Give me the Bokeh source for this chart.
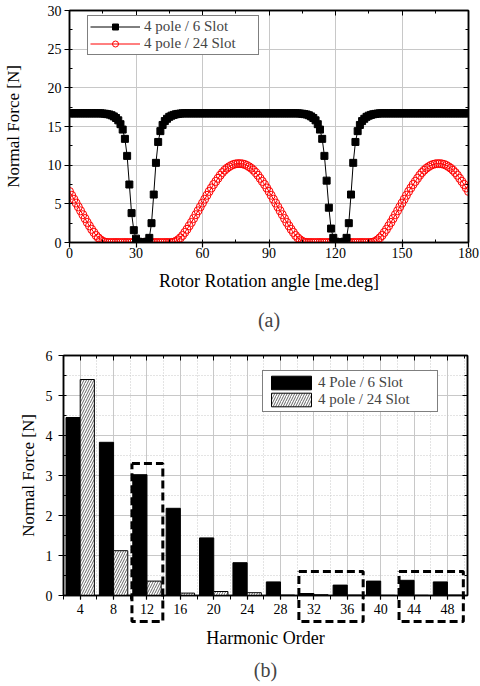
from bokeh.plotting import figure
from bokeh.models import (Range1d, LinearAxis, SingleIntervalTicker, FixedTicker,
                          Legend, LegendItem, Title, ColumnDataSource)
from bokeh.transform import dodge
from bokeh.embed import file_html
from bokeh.resources import INLINE

FONT = "Liberation Serif"

# ---------------- (a) normal force vs rotor angle ----------------
angle = list(range(0, 181))

force_6slot = [
    16.7, 16.7, 16.7, 16.7, 16.7, 16.7, 16.7, 16.7, 16.7, 16.7,
    16.7, 16.7, 16.7, 16.7, 16.7, 16.68, 16.65, 16.6, 16.55, 16.45,
    16.3, 16.1, 15.8, 15.3, 14.6, 13.4, 11.2, 7.5, 3.8, 1.6,
    0.5, 0.1, 0.0, 0.0, 0.0, 0.1, 0.6, 2.5, 6.2, 10.3,
    13.0, 14.4, 15.2, 15.7, 16.0, 16.25, 16.4, 16.5, 16.58, 16.63,
    16.67, 16.7, 16.7, 16.7, 16.7, 16.7, 16.7, 16.7, 16.7, 16.7,
    16.7, 16.7, 16.7, 16.7, 16.7, 16.7, 16.7, 16.7, 16.7, 16.7,
    16.7, 16.7, 16.7, 16.7, 16.7, 16.7, 16.7, 16.7, 16.7, 16.7,
    16.7, 16.7, 16.7, 16.7, 16.7, 16.7, 16.7, 16.7, 16.7, 16.7,
    16.7, 16.7, 16.7, 16.7, 16.7, 16.7, 16.7, 16.7, 16.7, 16.7,
    16.7, 16.7, 16.7, 16.7, 16.68, 16.65, 16.6, 16.55, 16.45, 16.3,
    16.1, 15.8, 15.3, 14.6, 13.4, 11.2, 8.0, 4.5, 1.8, 0.6,
    0.1, 0.0, 0.0, 0.0, 0.1, 0.6, 2.5, 6.2, 10.3, 13.0,
    14.4, 15.2, 15.7, 16.0, 16.25, 16.4, 16.5, 16.58, 16.63, 16.67,
    16.7, 16.7, 16.7, 16.7, 16.7, 16.7, 16.7, 16.7, 16.7, 16.7,
    16.7, 16.7, 16.7, 16.7, 16.7, 16.7, 16.7, 16.7, 16.7, 16.7,
    16.7, 16.7, 16.7, 16.7, 16.7, 16.7, 16.7, 16.7, 16.7, 16.7,
    16.7, 16.7, 16.7, 16.7, 16.7, 16.7, 16.7, 16.7, 16.7, 16.7,
    16.7,
]

force_24slot = [
    6.6, 6.1, 5.6, 5.1, 4.6, 4.1, 3.6, 3.1, 2.6, 2.15,
    1.7, 1.3, 0.9, 0.6, 0.35, 0.15, 0.05, 0.01, 0.0, 0.0,
    0.0, 0.0, 0.0, 0.0, 0.0, 0.0, 0.0, 0.0, 0.0, 0.0,
    0.0, 0.0, 0.0, 0.0, 0.0, 0.0, 0.0, 0.0, 0.0, 0.0,
    0.0, 0.0, 0.0, 0.0, 0.0, 0.0, 0.01, 0.05, 0.15, 0.35,
    0.6, 0.9, 1.3, 1.7, 2.15, 2.6, 3.1, 3.6, 4.1, 4.6,
    5.1, 5.6, 6.1, 6.6, 7.05, 7.5, 7.9, 8.3, 8.7, 9.05,
    9.35, 9.6, 9.8, 9.97, 10.1, 10.17, 10.2, 10.2, 10.17, 10.1,
    9.97, 9.8, 9.6, 9.35, 9.05, 8.7, 8.3, 7.9, 7.5, 7.05,
    6.6, 6.1, 5.6, 5.1, 4.6, 4.1, 3.6, 3.1, 2.6, 2.15,
    1.7, 1.3, 0.9, 0.6, 0.35, 0.15, 0.05, 0.01, 0.0, 0.0,
    0.0, 0.0, 0.0, 0.0, 0.0, 0.0, 0.0, 0.0, 0.0, 0.0,
    0.0, 0.0, 0.0, 0.0, 0.0, 0.0, 0.0, 0.0, 0.0, 0.0,
    0.0, 0.0, 0.0, 0.0, 0.0, 0.0, 0.01, 0.05, 0.15, 0.35,
    0.6, 0.9, 1.3, 1.7, 2.15, 2.6, 3.1, 3.6, 4.1, 4.6,
    5.1, 5.6, 6.1, 6.6, 7.05, 7.5, 7.9, 8.3, 8.7, 9.05,
    9.35, 9.6, 9.8, 9.97, 10.1, 10.17, 10.2, 10.2, 10.17, 10.1,
    9.97, 9.8, 9.6, 9.35, 9.05, 8.7, 8.3, 7.9, 7.5, 7.05,
    6.6,
]

label_6slot_a = "4 pole / 6 Slot"
label_24slot_a = "4 pole / 24 Slot"

# ---------------- (b) harmonic spectrum ----------------
harmonic = [4, 8, 12, 16, 20, 24, 28, 32, 36, 40, 44, 48]
spec_6slot = [4.45, 3.83, 3.02, 2.18, 1.44, 0.82, 0.34, 0.05, 0.26, 0.36, 0.38, 0.34]
spec_24slot = [5.40, 1.12, 0.36, 0.06, 0.10, 0.07, 0.01, 0.02, 0.01, 0.005, 0.005, 0.01]
label_6slot_b = "4 Pole / 6 Slot"
label_24slot_b = "4 pole / 24 Slot"

# highlighted harmonic groups (first, last harmonic) and the box top in N
highlight_groups = [(12, 12), (32, 36), (44, 48)]
highlight_tops = [3.3, 0.6, 0.6]


def style_axis(ax, label_size="17px"):
    ax.major_label_text_font = FONT
    ax.major_label_text_font_size = "14px"
    ax.major_label_text_color = "black"
    ax.axis_label_text_font = FONT
    ax.axis_label_text_font_size = label_size
    ax.axis_label_text_font_style = "normal"
    ax.axis_label_text_color = "black"
    ax.axis_line_color = "black"
    ax.axis_line_width = 1.5
    ax.major_tick_line_color = "black"
    ax.minor_tick_line_color = "black"
    ax.major_tick_line_width = 1.2
    ax.minor_tick_line_width = 1
    ax.major_tick_in = 0
    ax.major_tick_out = 5
    ax.minor_tick_in = 3
    ax.minor_tick_out = 0


def mirror_axis(ticker):
    ax = LinearAxis(ticker=ticker)
    ax.major_label_text_font_size = "1px"
    ax.major_label_text_color = None
    ax.major_label_standoff = 0
    ax.axis_line_color = "black"
    ax.axis_line_width = 1.5
    ax.major_tick_in = 5
    ax.major_tick_out = 0
    ax.minor_tick_in = 3
    ax.minor_tick_out = 0
    ax.major_tick_line_color = "black"
    ax.minor_tick_line_color = "black"
    return ax


# ---------- figure (a) ----------
p1 = figure(width=480, height=343, x_range=Range1d(0, 180), y_range=Range1d(0, 30),
            output_backend="svg", toolbar_location=None, title=None,
            min_border_left=68, min_border_right=12, min_border_top=10, min_border_bottom=100)
p1.background_fill_color = "white"
p1.border_fill_color = "white"
p1.outline_line_color = "black"
p1.outline_line_width = 1.5

p1.xaxis.ticker = SingleIntervalTicker(interval=30, num_minor_ticks=2)
p1.yaxis.ticker = SingleIntervalTicker(interval=5, num_minor_ticks=2)
for ax in list(p1.xaxis) + list(p1.yaxis):
    style_axis(ax)
p1.xaxis.axis_label_text_font_size = "18px"
p1.xaxis.axis_label = "Rotor Rotation angle [me.deg]"
p1.yaxis.axis_label = "Normal Force [N]"
p1.xaxis.major_label_standoff = 0
p1.xaxis.axis_label_standoff = 10
p1.yaxis.major_label_standoff = 3
p1.yaxis.axis_label_standoff = 22
p1.add_layout(mirror_axis(SingleIntervalTicker(interval=30, num_minor_ticks=2)), "above")
p1.add_layout(mirror_axis(SingleIntervalTicker(interval=5, num_minor_ticks=2)), "right")

p1.xgrid.grid_line_color = "#c8c8c8"
p1.ygrid.grid_line_color = "#c8c8c8"

srcA = ColumnDataSource(dict(angle=angle, f6=force_6slot, f24=force_24slot))
l24 = p1.line("angle", "f24", source=srcA, line_color="red", line_width=1)
s24 = p1.scatter("angle", "f24", source=srcA, marker="circle", size=8,
                 fill_color=None, line_color="red", line_width=1)
l6 = p1.line("angle", "f6", source=srcA, line_color="black", line_width=1)
s6 = p1.scatter("angle", "f6", source=srcA, marker="square", size=7,
                fill_color="black", line_color="black")

leg1 = Legend(items=[LegendItem(label=label_6slot_a, renderers=[l6, s6]),
                     LegendItem(label=label_24slot_a, renderers=[l24, s24])],
              location=(18, 187))
leg1.label_text_font = FONT
leg1.label_text_font_size = "15px"
leg1.label_height = 15
leg1.glyph_height = 15
leg1.glyph_width = 50
leg1.label_standoff = 4
leg1.label_width = 112
leg1.padding = 2
leg1.spacing = 0
leg1.border_line_color = "black"
leg1.border_line_width = 1
leg1.background_fill_alpha = 1
p1.add_layout(leg1)

t1 = Title(text="(a)", align="center", text_font=FONT, text_font_size="20px",
           text_font_style="normal", standoff=26)
p1.add_layout(t1, "below")

# ---------- figure (b) ----------
p2 = figure(width=480, height=343, x_range=Range1d(2, 50.4), y_range=Range1d(0, 6),
            output_backend="svg", toolbar_location=None, title=None,
            min_border_left=63, min_border_right=13, min_border_top=12, min_border_bottom=90)
p2.background_fill_color = "white"
p2.border_fill_color = "white"
p2.outline_line_color = "black"
p2.outline_line_width = 1.5

minor_x = list(range(2, 51, 2))
p2.xaxis.ticker = FixedTicker(ticks=harmonic, minor_ticks=minor_x)
p2.yaxis.ticker = SingleIntervalTicker(interval=1, num_minor_ticks=2)
for ax in list(p2.xaxis) + list(p2.yaxis):
    style_axis(ax)
p2.xaxis.axis_label_text_font_size = "18px"
p2.xaxis.minor_tick_in = 0
p2.xaxis.minor_tick_out = 4
p2.xaxis.major_tick_out = 4
p2.xaxis.axis_label = "Harmonic Order"
p2.yaxis.axis_label = "Normal Force [N]"
p2.xaxis.major_label_standoff = 4
p2.xaxis.axis_label_standoff = 11
p2.yaxis.major_label_standoff = 6
p2.yaxis.axis_label_standoff = 5
p2.add_layout(mirror_axis(FixedTicker(ticks=harmonic, minor_ticks=minor_x)), "above")
p2.add_layout(mirror_axis(SingleIntervalTicker(interval=1, num_minor_ticks=2)), "right")

for g in (p2.xgrid, p2.ygrid):
    g.grid_line_color = "#c8c8c8"
    g.grid_line_width = 1
    g.minor_grid_line_color = "#c8c8c8"
    g.minor_grid_line_dash = "1 2"
    g.minor_grid_line_width = 1

srcB = ColumnDataSource(dict(h=harmonic, s6=spec_6slot, s24=spec_24slot))
b6 = p2.vbar(x=dodge("h", -0.85), top="s6", width=1.7, source=srcB,
             fill_color="black", line_color="black", line_width=1)
b24 = p2.vbar(x=dodge("h", 0.85), top="s24", width=1.7, source=srcB,
              fill_color="white", line_color="black", line_width=1,
              hatch_pattern="/", hatch_scale=5, hatch_weight=0.6, hatch_color="black")

# dashed highlight boxes around harmonic groups, reaching below the axis
box_bottom = -0.65
box_xs, box_ys = [], []
for (lo, hi), top in zip(highlight_groups, highlight_tops):
    box_xs.append([lo - 1.8, hi + 1.9, hi + 1.9, lo - 1.8, lo - 1.8])
    box_ys.append([top, top, box_bottom, box_bottom, top])
boxes = p2.multi_line(xs=box_xs, ys=box_ys, line_color="black", line_width=3,
                      line_dash="8 4")
boxes.level = "overlay"

leg2 = Legend(items=[LegendItem(label=label_6slot_b, renderers=[b6]),
                     LegendItem(label=label_24slot_b, renderers=[b24])],
              location=(199, 183))
leg2.label_text_font = FONT
leg2.label_text_font_size = "15px"
leg2.label_height = 17
leg2.glyph_height = 17
leg2.glyph_width = 50
leg2.label_standoff = 2
leg2.label_width = 116
leg2.padding = 3
leg2.spacing = 0
leg2.border_line_color = "black"
leg2.border_line_width = 1
leg2.background_fill_alpha = 1
p2.add_layout(leg2)

t2 = Title(text="(b)", align="center", text_font=FONT, text_font_size="20px",
           text_font_style="normal", standoff=12)
p2.add_layout(t2, "below")

open("out.html", "w").write(file_html([p1, p2], INLINE))
